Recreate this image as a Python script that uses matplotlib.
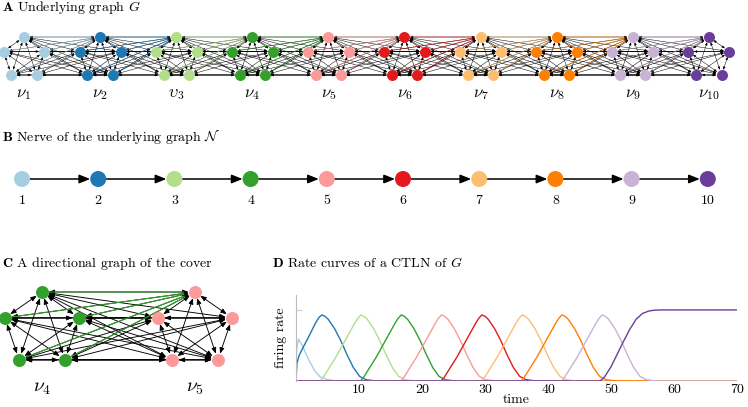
import numpy as np
import matplotlib
matplotlib.use('Agg')
import matplotlib.pyplot as plt
from matplotlib.patches import FancyArrowPatch

plt.rcParams['font.family'] = ['cmr10', 'DejaVu Serif']
plt.rcParams['mathtext.fontset'] = 'cm'
plt.rcParams['axes.formatter.use_mathtext'] = True

# ---------------- data ----------------
cluster_colors = ['#a6cee3', '#1f78b4', '#b2df8a', '#33a02c', '#fb9a99',
                  '#e31a1c', '#fdbf6f', '#ff7f00', '#cab2d6', '#6a3d9a']
cluster_labels = [r'$\nu_1$', r'$\nu_2$', r'$\upsilon_3$', r'$\nu_4$', r'$\nu_5$',
                  r'$\nu_6$', r'$\nu_7$', r'$\nu_8$', r'$\nu_9$', r'$\nu_{10}$']
nerve_labels = ['1', '2', '3', '4', '5', '6', '7', '8', '9', '10']
cover_clusters = [3, 4]          # clusters nu_4 and nu_5 shown in panel C

# rate curves (time, firing rate)
t_c1 = [0, 0.1, 0.4, 1, 2, 3, 3.8, 5, 6, 7, 70]
r_c1 = [0, 0.45, 0.59, 0.5, 0.3, 0.14, 0.06, 0.02, 0.005, 0, 0]
t_c2 = [0, 0.15, 0.5, 1, 2, 3, 3.6, 4.1, 4.6, 5.1, 6.1, 7.1, 8.1, 9.1, 10.1, 11.1, 12.1, 13.1, 70]
r_c2 = [0, 0.25, 0.36, 0.45, 0.62, 0.8, 0.89, 0.93, 0.91, 0.87, 0.74, 0.57, 0.37, 0.19, 0.065, 0.019, 0.007, 0, 0]
bump_rates = [0, 0, 0.047, 0.19, 0.33, 0.49, 0.65, 0.81, 0.88, 0.93, 0.91, 0.87,
              0.74, 0.57, 0.37, 0.19, 0.065, 0.019, 0.007, 0, 0]
t_c3 = [0, 3.8, 4.3, 5.3, 6.3, 7.3, 8.3, 9.3, 9.8, 10.3, 10.8, 11.3, 12.3, 13.3, 14.3, 15.3, 16.3, 17.3, 18.3, 19.3, 70]
t_c4 = [0, 10.2, 10.7, 11.7, 12.7, 13.7, 14.7, 15.7, 16.2, 16.7, 17.2, 17.7, 18.7, 19.7, 20.7, 21.7, 22.7, 23.7, 24.7, 25.7, 70]
t_c5 = [0, 16.6, 17.1, 18.1, 19.1, 20.1, 21.1, 22.1, 22.6, 23.1, 23.6, 24.1, 25.1, 26.1, 27.1, 28.1, 29.1, 30.1, 31.1, 32.1, 70]
t_c6 = [0, 23.0, 23.5, 24.5, 25.5, 26.5, 27.5, 28.5, 29.0, 29.5, 30.0, 30.5, 31.5, 32.5, 33.5, 34.5, 35.5, 36.5, 37.5, 38.5, 70]
t_c7 = [0, 29.4, 29.9, 30.9, 31.9, 32.9, 33.9, 34.9, 35.4, 35.9, 36.4, 36.9, 37.9, 38.9, 39.9, 40.9, 41.9, 42.9, 43.9, 44.9, 70]
t_c8 = [0, 35.7, 36.2, 37.2, 38.2, 39.2, 40.2, 41.2, 41.7, 42.2, 42.7, 43.2, 44.2, 45.2, 46.2, 47.2, 48.2, 49.2, 50.2, 51.2, 70]
t_c9 = [0, 42.1, 42.6, 43.6, 44.6, 45.6, 46.6, 47.6, 48.1, 48.6, 49.1, 49.6, 50.6, 51.6, 52.6, 53.6, 54.6, 55.6, 56.6, 57.6, 70]
t_c10 = [0, 48.3, 49, 50, 51, 52, 53, 54, 55, 56, 57, 58, 70]
r_c10 = [0, 0, 0.06, 0.2, 0.38, 0.56, 0.73, 0.87, 0.95, 0.985, 0.997, 1.0, 1.0]
x_ticks = [10, 20, 30, 40, 50, 60, 70]

curves = [(t_c1, r_c1), (t_c2, r_c2), (t_c3, bump_rates), (t_c4, bump_rates),
          (t_c5, bump_rates), (t_c6, bump_rates), (t_c7, bump_rates),
          (t_c8, bump_rates), (t_c9, bump_rates), (t_c10, r_c10)]

# ---------------- figure ----------------
W, H = 748, 407
FS = 10
fig = plt.figure(figsize=(W / 100, H / 100), dpi=100)
ax = fig.add_axes([0, 0, 1, 1])
ax.set_xlim(0, W)
ax.set_ylim(H, 0)
ax.axis('off')
PT = 0.72  # points per pixel


def pentagon(cx, cy, rx, ry):
    angs = np.deg2rad([90, 162, 234, 306, 18])
    return [(cx + rx * np.cos(a), cy - ry * np.sin(a)) for a in angs]


def arrow(p, q, style, color, lw, shrink, z, alpha=1.0):
    ax.add_patch(FancyArrowPatch(p, q, arrowstyle=style, color=color, lw=lw,
                                 shrinkA=shrink, shrinkB=shrink, alpha=alpha,
                                 mutation_scale=1, zorder=z))


def draw_cover(idx, centers, cy, rx, ry, node_r, lw, hl, hw, clw, calpha):
    pos = [pentagon(cx, cy, rx, ry) for cx in centers]
    shrink = node_r * PT
    both = '<|-|>,head_length=%g,head_width=%g' % (hl, hw)
    for k, P in enumerate(pos):
        for a in range(5):
            for b in range(a + 1, 5):
                arrow(P[a], P[b], both, 'k', lw, shrink, 2)
    for k in range(len(pos) - 1):
        P, Q = pos[k], pos[k + 1]
        for u in P:
            for j, v in enumerate(Q):
                arrow(u, v, both, 'k', lw, shrink, 2)
        for u in P:
            ax.add_patch(FancyArrowPatch(u, Q[0], arrowstyle='-', color=cluster_colors[idx[k]],
                                         lw=clw, shrinkA=shrink, shrinkB=shrink + hl,
                                         alpha=calpha, zorder=3))
    for k, P in enumerate(pos):
        xs = [p[0] for p in P]
        ys = [p[1] for p in P]
        ax.scatter(xs, ys, s=(2 * node_r * PT) ** 2, color=cluster_colors[idx[k]],
                   linewidths=0, zorder=5)
    return pos


# ---- Panel A ----
ax.text(2, 7, r'$\mathbf{A}$ Underlying graph $G$', fontsize=FS, va='center', ha='left')
centersA = [24 + 76.1 * i for i in range(10)]
draw_cover(list(range(10)), centersA, 58, 21.5, 21, 5.5, 0.35, 1.7, 0.7, 0.5, 0.8)
for i, cx in enumerate(centersA):
    ax.text(cx, 94, cluster_labels[i], fontsize=12, ha='center', va='center')

# ---- Panel B ----
ax.text(2, 136, r'$\mathbf{B}$ Nerve of the underlying graph $\mathcal{N}$', fontsize=FS,
        va='center', ha='left')
xB = [22 + 76.2 * i for i in range(10)]
yB = 179
for i in range(9):
    arrow((xB[i], yB), (xB[i + 1], yB), '-|>,head_length=6.5,head_width=2.6', 'k', 1.1,
          8 * PT, 2)
ax.scatter(xB, [yB] * 10, s=(16 * PT) ** 2, color=cluster_colors, linewidths=0, zorder=5)
for i in range(10):
    ax.text(xB[i], 201, nerve_labels[i], fontsize=FS, ha='center', va='center')

# ---- Panel C ----
ax.text(2, 263, r'$\mathbf{C}$ A directional graph of the cover', fontsize=FS,
        va='center', ha='left')
centersC = [42, 195]
draw_cover(cover_clusters, centersC, 329.5, 39, 37.5, 6.5, 0.65, 3.5, 1.4, 0.8, 1.0)
for k, cx in enumerate(centersC):
    ax.text(cx, 388, cluster_labels[cover_clusters[k]], fontsize=14, ha='center', va='center')

# ---- Panel D ----
ax.text(272, 263, r'$\mathbf{D}$ Rate curves of a CTLN of $G$', fontsize=FS,
        va='center', ha='left')
axD = fig.add_axes([296 / W, (H - 381) / H, 441 / W, 86 / H])
axD.patch.set_alpha(0)
for i, (t, r) in enumerate(curves):
    axD.plot(t, r, color=cluster_colors[i], lw=1.0)
axD.set_xlim(0, 70)
axD.set_ylim(0, 1.21)
axD.set_xticks(x_ticks)
axD.set_xticklabels([str(v) for v in x_ticks], fontsize=FS)
axD.set_yticks([1.0])
axD.set_yticklabels([])
axD.tick_params(axis='x', length=0, pad=2)
axD.tick_params(axis='y', direction='in', length=4, color='#cccccc')
for s in ['top', 'right', 'bottom']:
    axD.spines[s].set_visible(False)
axD.spines['left'].set_color('#bbbbbb')
axD.spines['left'].set_linewidth(0.8)
axD.set_xlabel('time', fontsize=FS)
axD.xaxis.set_label_coords(0.5, -0.15)
axD.set_ylabel('firing rate', fontsize=FS, labelpad=3)

fig.savefig('out.png', dpi=100)
